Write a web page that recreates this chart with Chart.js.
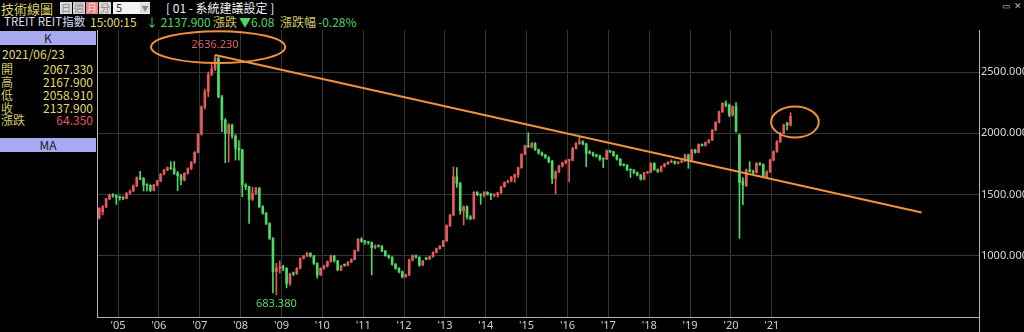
<!DOCTYPE html>
<html>
<head>
<meta charset="utf-8">
<script src="https://cdn.jsdelivr.net/npm/chart.js@4.4.0/dist/chart.umd.min.js"></script>
<style>
  html, body { margin: 0; padding: 0; background: #000; width: 1024px; height: 332px; overflow: hidden; }
  body { position: relative; font-family: "Noto Sans CJK TC", "Noto Sans", sans-serif; }
  .t { position: absolute; white-space: nowrap; line-height: 1; font-size: 12px; }
  .btn { position: absolute; top: 2px; width: 12px; height: 12px; background: #d6d6d6; color: #8a8a8a;
         font-size: 10px; line-height: 12px; text-align: center; }
  .bar { position: absolute; left: 0; width: 96px; height: 14px; background: #a9a9f2; color: #202020;
         font-size: 12px; line-height: 14px; text-align: center; }
  .lab { color: #cfc66a; left: 1px; }
  .val { color: #e6dc6c; right: 931px; text-align: right; }
  #chart { position: absolute; left: 97px; top: 30px; }
</style>
</head>
<body>
<!-- header line 1 -->
<div class="t" style="left:1px;top:2px;color:#ddd36a;font-size:13px;">技術線圖</div>
<div class="btn" style="left:60px;">日</div>
<div class="btn" style="left:73px;">週</div>
<div class="btn" style="left:86px;background:#ec8585;color:#ffd8d8;">月</div>
<div class="btn" style="left:99px;">分</div>
<div style="position:absolute;left:113px;top:2px;width:37px;height:12px;background:#f2f2f2;"></div>
<div class="t" style="left:116px;top:2px;color:#333;font-size:11px;">5</div>
<div style="position:absolute;left:140px;top:3px;width:10px;height:10px;background:#dcdcdc;color:#888;font-size:7px;line-height:10px;text-align:center;">▼</div>
<div class="t" style="left:166px;top:2px;color:#f0f0f0;">[ 01 - 系統建議設定 ]</div>
<div class="t" style="left:1002px;top:1px;color:#bbb;font-size:9px;">▭</div>
<div class="t" style="left:1014px;top:1px;color:#bbb;font-size:9px;">✕</div>

<!-- header line 2 -->
<div class="t" style="left:4px;top:16px;color:#dcdcf4;font-size:11.5px;">TREIT REIT指數</div>
<div class="t" style="left:90px;top:16px;color:#e6dc6c;">15:00:15</div>
<div class="t" style="left:146px;top:16px;color:#4fd566;">↓ 2137.900</div>
<div class="t" style="left:213px;top:16px;color:#cfc66a;">漲跌</div>
<div class="t" style="left:239px;top:16px;color:#4fd566;">▼6.08</div>
<div class="t" style="left:280px;top:16px;color:#cfc66a;">漲跌幅</div>
<div class="t" style="left:318px;top:16px;color:#4fd566;">-0.28%</div>

<!-- left info panel -->
<div class="bar" style="top:31px;">K</div>
<div class="t" style="left:2px;top:48px;color:#e6dc6c;">2021/06/23</div>
<div class="t lab" style="top:63px;">開</div><div class="t val" style="top:63px;">2067.330</div>
<div class="t lab" style="top:76px;">高</div><div class="t val" style="top:76px;">2167.900</div>
<div class="t lab" style="top:89px;">低</div><div class="t val" style="top:89px;">2058.910</div>
<div class="t lab" style="top:102px;">收</div><div class="t val" style="top:102px;">2137.900</div>
<div class="t lab" style="top:114px;">漲跌</div><div class="t val" style="top:114px;color:#e05c5c;">64.350</div>
<div class="bar" style="top:138px;">MA</div>

<canvas id="chart" width="927" height="302"></canvas>

<script>
// monthly candles, first bar = 2004/07, last bar = 2021/06
const startMonth = '2004/07';
const firstJan = 6; // bar index of 2005/01
const yearLabels = ["'05", "'06", "'07", "'08", "'09", "'10", "'11", "'12", "'13",
                    "'14", "'15", "'16", "'17", "'18", "'19", "'20", "'21"];
const yTicks = [1000, 1500, 2000, 2500];

const opens = [
  1312,1360,1400,1465,1497,1490,1478,1475,1470,1511,1530,1573,
  1638,1630,1579,1575,1535,1579,1611,1666,1701,1720,1712,1674,
  1655,1619,1674,1712,1763,1845,1992,2217,2339,2481,2524,2611,
  2298,2108,2000,2068,1978,1878,1865,1579,1565,1462,1511,1551,
  1402,1348,1266,1144,872,900,913,900,777,862,855,900,
  981,1000,1022,1000,940,845,900,918,954,1000,960,886,
  930,925,950,972,1043,1136,1120,1115,1110,1068,1085,1080,
  1041,1003,990,932,900,872,831,845,967,1003,990,927,
  985,975,995,1030,1060,1080,1122,1247,1334,1646,1592,1367,
  1402,1320,1305,1519,1500,1495,1519,1505,1495,1500,1515,1565,
  1600,1612,1643,1663,1720,1829,1899,1890,1918,1866,1840,1823,
  1804,1769,1633,1686,1733,1760,1778,1782,1877,1918,1932,1913,
  1850,1840,1825,1815,1795,1790,1858,1850,1820,1790,1748,1740,
  1706,1700,1680,1660,1625,1679,1685,1755,1705,1690,1730,1750,
  1765,1770,1755,1765,1775,1823,1780,1864,1845,1910,1900,1925,
  1945,2027,2089,2176,2244,2230,2149,2217,1986,1611,1575,1701,
  1690,1680,1755,1745,1647,1687,1782,1850,1932,2000,2085,2067.33
];
const highs = [
  1395,1410,1470,1505,1508,1500,1490,1485,1518,1538,1580,1645,
  1690,1640,1590,1582,1585,1618,1672,1708,1726,1769,1770,1690,
  1665,1680,1718,1770,1852,2000,2225,2360,2500,2560,2636.23,2625,
  2310,2120,2080,2075,1990,1940,1870,1590,1570,1560,1560,1560,
  1410,1355,1270,1150,940,960,925,905,860,870,905,985,
  1005,1030,1028,1005,945,905,925,960,1008,1005,965,925,
  935,955,978,1050,1145,1150,1128,1120,1115,1092,1090,1085,
  1045,1010,995,940,905,878,852,975,1010,1010,995,966,
  990,1000,1035,1065,1085,1128,1255,1340,1728,1720,1600,1410,
  1410,1330,1525,1525,1508,1525,1525,1510,1508,1520,1570,1605,
  1618,1648,1668,1725,1835,1905,2005,1925,1925,1872,1850,1830,
  1810,1780,1695,1740,1765,1785,1790,1885,1925,1973,1940,1920,
  1860,1848,1830,1822,1800,1865,1862,1855,1825,1795,1752,1745,
  1710,1705,1685,1665,1685,1690,1762,1760,1710,1735,1755,1770,
  1785,1775,1770,1780,1830,1830,1870,1870,1915,1915,1930,1950,
  2032,2095,2182,2250,2265,2240,2225,2250,1995,1640,1710,1769,
  1700,1762,1762,1752,1695,1790,1858,1940,2008,2075,2090,2167.9
];
const lows = [
  1300,1335,1395,1460,1480,1420,1455,1460,1465,1505,1525,1565,
  1620,1530,1530,1525,1530,1572,1605,1660,1695,1705,1665,1532,
  1580,1612,1668,1705,1755,1840,1985,2200,2300,2470,2510,2290,
  2013,1760,1765,1960,1782,1782,1483,1540,1266,1452,1500,1395,
  1340,1255,1135,700,683.38,860,880,740,760,840,850,895,
  975,995,990,930,820,840,890,910,950,950,880,880,
  915,920,945,968,1040,1110,1095,1095,845,1060,1072,1035,
  998,980,925,890,862,820,825,840,960,982,915,920,
  968,970,990,1025,1055,1075,1118,1240,1330,1560,1340,1253,
  1300,1295,1300,1490,1421,1480,1495,1460,1485,1480,1510,1560,
  1595,1605,1600,1640,1715,1825,1885,1880,1860,1830,1815,1795,
  1760,1590,1505,1680,1725,1750,1605,1775,1870,1910,1905,1728,
  1832,1812,1805,1780,1720,1785,1842,1812,1782,1735,1732,1695,
  1640,1672,1652,1618,1620,1670,1680,1698,1680,1685,1725,1745,
  1760,1748,1750,1760,1770,1715,1775,1838,1840,1895,1895,1920,
  1940,2020,2085,2170,2215,2135,2140,2010,1144,1418,1565,1685,
  1672,1675,1738,1640,1640,1680,1775,1845,1925,1995,2027,2058.91
];
const closes = [
  1389,1402,1465,1497,1490,1478,1475,1470,1511,1530,1573,1638,
  1630,1579,1575,1535,1579,1611,1666,1701,1720,1712,1674,1655,
  1619,1674,1712,1763,1845,1992,2217,2339,2481,2524,2611,2298,
  2108,2000,2068,1978,1878,1865,1579,1565,1462,1511,1551,1402,
  1348,1266,1144,872,900,913,900,777,853,855,900,981,
  1000,1022,1000,940,845,900,918,954,1000,960,886,920,
  925,950,972,1043,1136,1120,1115,1110,1068,1085,1080,1041,
  1003,990,932,900,872,831,845,967,1003,990,927,960,
  975,995,1030,1060,1080,1122,1247,1334,1646,1592,1367,1402,
  1320,1305,1519,1500,1495,1519,1505,1495,1500,1515,1565,1600,
  1612,1643,1663,1720,1829,1899,1890,1918,1866,1840,1823,1804,
  1769,1633,1686,1733,1760,1778,1782,1877,1918,1932,1913,1837,
  1840,1820,1815,1788,1790,1858,1850,1820,1790,1742,1740,1701,
  1700,1680,1660,1625,1679,1685,1755,1705,1690,1730,1750,1765,
  1770,1755,1765,1775,1823,1780,1864,1845,1910,1900,1925,1945,
  2027,2089,2176,2244,2230,2149,2217,2019,1600,1579,1701,1690,
  1680,1755,1745,1647,1687,1782,1850,1932,2000,2068,2067.33,2137.9
];

// hand-drawn trend line and circles (bar index, value)
const trendX = [34, 241.5];
const trendY = [2638, 1355];
const rings = [
  { x: 34.9, y: 2703, rx: 19.7, ry: 130 },
  { x: 204.3, y: 2092, rx: 7, ry: 126 }
];

const UP = '#e35b5b';
const DOWN = '#4cd964';
const ORANGE = '#f0913c';
const isUp = i => closes[i] >= opens[i];

const annotate = {
  id: 'annotate',
  afterDraw(chart) {
    const { ctx, chartArea, scales: { x, y } } = chart;
    ctx.save();
    // left and right frame lines
    ctx.strokeStyle = '#b4b4b4';
    ctx.lineWidth = 1;
    ctx.beginPath();
    ctx.moveTo(chartArea.left + 0.5, chartArea.top);
    ctx.lineTo(chartArea.left + 0.5, chartArea.bottom);
    ctx.moveTo(chartArea.right + 0.5, chartArea.top);
    ctx.lineTo(chartArea.right + 0.5, chart.height);
    ctx.stroke();

    // highest / lowest labels
    const hi = Math.max(...highs), hiIdx = highs.indexOf(hi);
    const lo = Math.min(...lows), loIdx = lows.indexOf(lo);
    ctx.font = '11px "Noto Sans"';
    ctx.textAlign = 'center';
    ctx.textBaseline = 'middle';
    ctx.fillStyle = '#dc6464';
    ctx.fillText(hi.toFixed(3), x.getPixelForValue(hiIdx), y.getPixelForValue(hi) - 10);
    ctx.fillStyle = '#5ed46e';
    ctx.fillText(lo.toFixed(3), x.getPixelForValue(loIdx), y.getPixelForValue(lo) + 9);

    // circles
    ctx.strokeStyle = ORANGE;
    ctx.lineWidth = 2;
    rings.forEach(r => {
      const cx = x.getPixelForValue(r.x), cy = y.getPixelForValue(r.y);
      const rx = Math.abs(x.getPixelForValue(r.x + r.rx) - cx);
      const ry = Math.abs(y.getPixelForValue(r.y + r.ry) - cy);
      ctx.beginPath();
      ctx.ellipse(cx, cy, rx, ry, 0, 0, Math.PI * 2);
      ctx.stroke();
    });
    ctx.restore();
  }
};

Chart.defaults.font.family = '"Noto Sans", sans-serif';

new Chart(document.getElementById('chart'), {
  type: 'bar',
  data: {
    datasets: [
      {
        label: 'wick',
        data: closes.map((c, i) => ({ x: i, y: [lows[i], highs[i]] })),
        backgroundColor: ctx => isUp(ctx.dataIndex) ? UP : DOWN,
        barThickness: 1,
        grouped: false,
        order: 3
      },
      {
        label: 'body',
        data: closes.map((c, i) => ({ x: i, y: [opens[i], c] })),
        backgroundColor: ctx => isUp(ctx.dataIndex) ? UP : DOWN,
        barThickness: 2,
        minBarLength: 1,
        grouped: false,
        order: 2
      },
      {
        type: 'line',
        label: 'trend',
        data: trendX.map((v, i) => ({ x: v, y: trendY[i] })),
        borderColor: ORANGE,
        borderWidth: 2,
        pointRadius: 0,
        order: 1
      }
    ]
  },
  options: {
    responsive: false,
    animation: false,
    events: [],
    layout: { padding: 0 },
    plugins: {
      legend: { display: false },
      tooltip: { enabled: false }
    },
    scales: {
      x: {
        type: 'linear',
        min: -0.675,
        max: 258.35,
        offset: false,
        grid: { offset: false, color: '#353535', drawTicks: false },
        border: { color: '#b4b4b4' },
        afterBuildTicks: s => {
          s.ticks = yearLabels.map((_, k) => ({ value: firstJan - 0.5 + 12 * k }));
        },
        afterFit: s => { s.height = 15; s.paddingLeft = 0; s.paddingRight = 0; },
        ticks: {
          color: '#cfcfcf',
          font: { size: 11 },
          padding: 2,
          maxRotation: 0,
          autoSkip: false,
          callback: (v, i) => yearLabels[i]
        }
      },
      y: {
        position: 'right',
        min: 502.7,
        max: 2842.4,
        grid: { color: '#353535', drawTicks: false },
        border: { color: '#b4b4b4' },
        afterBuildTicks: s => { s.ticks = yTicks.map(v => ({ value: v })); },
        afterFit: s => { s.width = 45; s.paddingTop = 0; s.paddingBottom = 0; },
        ticks: {
          color: '#d8d8d8',
          font: { size: 11 },
          padding: 2,
          callback: v => v.toFixed(3)
        }
      }
    }
  },
  plugins: [annotate]
});
</script>
</body>
</html>
